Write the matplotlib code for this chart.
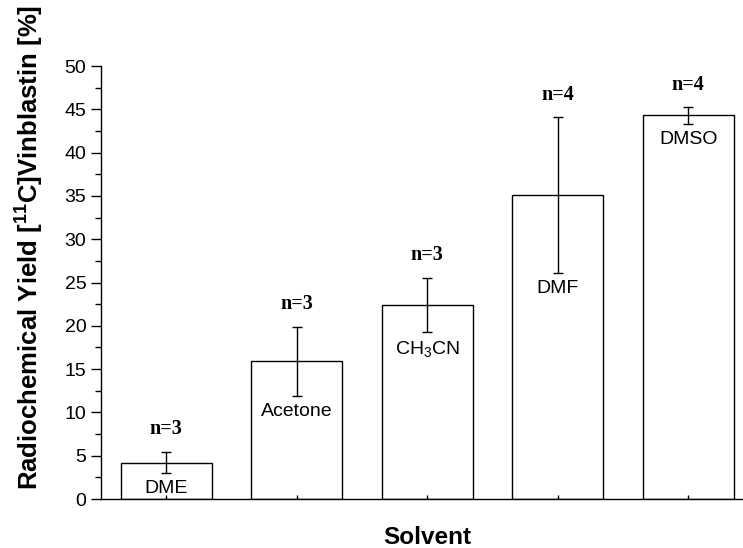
import numpy as np
import matplotlib
matplotlib.use('Agg')
import matplotlib.pyplot as plt

solvents = ['DME', 'Acetone', 'CH$_3$CN', 'DMF', 'DMSO']
yields = [4.2, 15.9, 22.4, 35.1, 44.3]
errors = [1.25, 4.0, 3.15, 9.0, 0.95]
n_runs = [3, 3, 3, 4, 4]

plt.rcParams['font.family'] = 'Liberation Sans'
plt.rcParams['mathtext.fontset'] = 'custom'
plt.rcParams['mathtext.rm'] = 'Liberation Sans'
plt.rcParams['mathtext.bf'] = 'Liberation Sans:bold'

fig = plt.figure(figsize=(7.43, 5.48), dpi=100)
ax = fig.add_axes([0.136, 0.0894, 0.878, 0.790])

x = np.arange(len(solvents))
ax.bar(x, yields, width=0.7, color='white', edgecolor='black', linewidth=1.0)
ax.errorbar(x, yields, yerr=errors, fmt='none', ecolor='black',
            elinewidth=1.0, capsize=3.5, capthick=1.0)

for xi, y, e, n, s in zip(x, yields, errors, n_runs, solvents):
    ax.annotate('n=%d' % n, (xi, y + e), xytext=(0, 9), textcoords='offset points',
                ha='center', va='bottom', family='Liberation Serif',
                fontweight='bold', fontsize=14.5)
    ax.annotate(s, (xi, y - e), xytext=(0, -5), textcoords='offset points',
                ha='center', va='top', fontsize=14)

ax.set_xlim(-0.5, 4.5)
ax.set_ylim(0, 50)
ax.set_yticks(np.arange(0, 51, 5))
ax.set_yticks(np.arange(0, 50, 2.5), minor=True)
ax.set_xticks(x)
ax.set_xticklabels([])
ax.tick_params(axis='x', direction='in', length=3, width=1.0)
ax.tick_params(axis='y', which='major', direction='out', length=7, width=1.0, labelsize=14)
ax.tick_params(axis='y', which='minor', direction='out', length=4, width=1.0)
for side in ['top', 'right']:
    ax.spines[side].set_visible(False)
for side in ['left', 'bottom']:
    ax.spines[side].set_linewidth(1.0)

ax.set_xlabel('Solvent', fontsize=17.5, fontweight='bold')
ax.xaxis.set_label_coords(0.5, -0.088)
ax.xaxis.label.set_va('center')
ax.set_ylabel(r'Radiochemical Yield [$\mathbf{^{11}}$C]Vinblastin [%]',
              fontsize=18.5, fontweight='bold')
ax.yaxis.set_label_coords(-0.109, 0.582)
ax.yaxis.label.set_va('center')

plt.savefig('out.png', dpi=100)
